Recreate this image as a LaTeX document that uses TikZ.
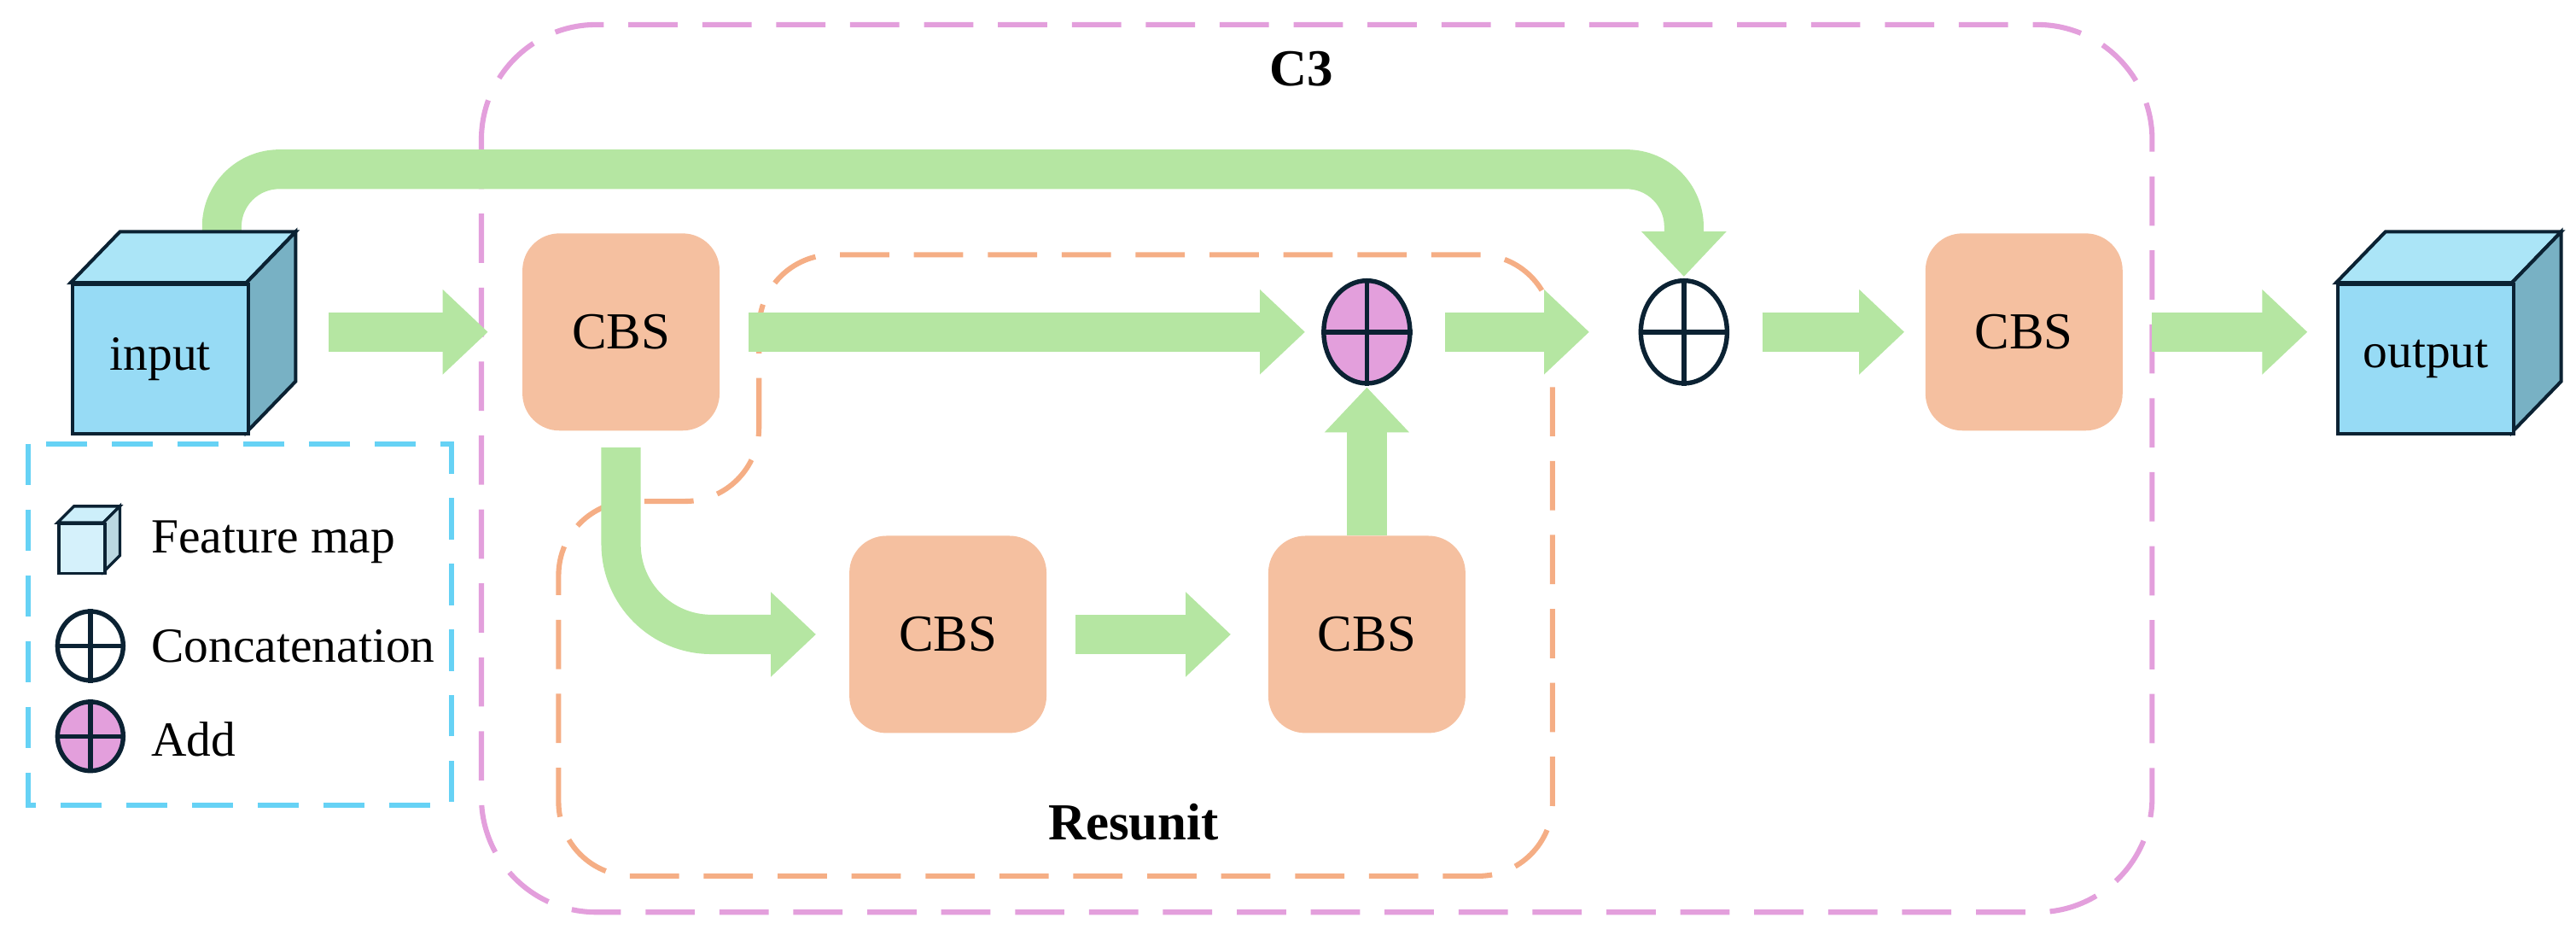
\documentclass[tikz,border=0pt]{standalone}
\usepackage{fontspec}
\setmainfont{Liberation Serif}
\usetikzlibrary{arrows.meta,shapes.geometric}
\definecolor{gr}{HTML}{B5E6A2}
\definecolor{cbs}{HTML}{F5C0A0}
\definecolor{pk}{HTML}{E39FDC}
\definecolor{og}{HTML}{F5AE85}
\definecolor{cy}{HTML}{66D2F5}
\definecolor{dk}{HTML}{0B2233}
\definecolor{cf}{HTML}{97DBF5}
\definecolor{cs}{HTML}{78B1C4}
\definecolor{ct}{HTML}{ABE5F7}
\tikzset{
 cbs/.style={rectangle,rounded corners=0.45cm,fill=cbs,minimum width=2.4cm,minimum height=2.4cm,font=\fontsize{18}{21}\selectfont},
 garrow/.style={draw=gr,line width=0.48cm,-{Triangle[width=1.0cm,length=0.55cm]}},
 op/.style={ellipse,draw=dk,line width=1.6pt,minimum width=1.05cm,minimum height=1.25cm,inner sep=0pt},
 cross/.style={draw=dk,line width=1.6pt},
 lbl/.style={font=\fontsize{17}{20}\selectfont,anchor=west},
}
\begin{document}
\begin{tikzpicture}[x=0.02cm,y=-0.02cm]
\useasboundingbox (0,0) rectangle (1568,572.5);
% C3 box
\draw[pk,line width=1.8pt,dash pattern=on 0.6cm off 0.3cm,rounded corners=1.4cm] (293,15) rectangle (1310,555);
\node[font=\bfseries\fontsize{18}{21}\selectfont] (c3) at (792,42) {C3};
% Resunit box
\draw[og,line width=1.8pt,dash pattern=on 0.6cm off 0.3cm,rounded corners=0.9cm] (462,305) -- (462,155) -- (945,155) -- (945,533) -- (340,533) -- (340,305) -- cycle;
\node[font=\bfseries\fontsize{18}{21}\selectfont] (res) at (690,500) {Resunit};
% nodes
\node[cbs] (cbs1) at (378,202) {CBS};
\node[cbs] (cbs2) at (577,386) {CBS};
\node[cbs] (cbs3) at (832,386) {CBS};
\node[cbs] (cbs4) at (1232,202) {CBS};
\node[op,fill=pk] (add) at (832,202) {};
\draw[cross] (add.north)--(add.south) (add.west)--(add.east);
\node[op,fill=white] (cat) at (1025,202) {};
\draw[cross] (cat.north)--(cat.south) (cat.west)--(cat.east);
% top skip path (behind input cube)
\coordinate (tp) at (135,150);
\draw[garrow,rounded corners=0.7cm,shorten >=0.02cm] (tp) -- (tp |- 0,103) -- (cat.north |- 0,103) -- (cat.north);
% cubes
\foreach \n/\x/\t in {in/43/input,out/1422/output}{
 \fill[ct,draw=dk,line width=1.2pt] (\x,172) -- (\x+30,141) -- (\x+137,141) -- (\x+107,172) -- cycle;
 \fill[cs,draw=dk,line width=1.2pt] (\x+107,172) -- (\x+137,141) -- (\x+137,232) -- (\x+107,263) -- cycle;
 \node[rectangle,fill=cf,draw=dk,line width=1.2pt,minimum width=2.14cm,minimum height=1.82cm,anchor=north west,font=\fontsize{17}{20}\selectfont] (\n) at (\x,172) {\t};
}
% arrows
\coordinate (a1) at (200,202); \coordinate (a1e) at (297,202);
\draw[garrow] (a1) -- (a1e);
\draw[garrow,shorten <=0.35cm,shorten >=0.2cm] (cbs1.east) -- (add.west);
\draw[garrow,shorten <=0.4cm,shorten >=0.6cm] (add.east) -- (cat.west);
\draw[garrow,shorten <=0.4cm,shorten >=0.25cm] (cat.east) -- (cbs4.west);
\draw[garrow,shorten <=0.35cm,shorten >=0.35cm] (cbs4.east) -- (out.west |- cbs4.east);
\draw[garrow,rounded corners=1.1cm,shorten <=0.2cm,shorten >=0.4cm] (cbs1.south) -- (cbs1.south |- cbs2.west) -- (cbs2.west);
\draw[garrow,shorten <=0.35cm,shorten >=0.45cm] (cbs2.east) -- (cbs3.west);
\draw[garrow,shorten >=0.02cm] (cbs3.north) -- (add.south);
% legend
\draw[cy,line width=1.8pt,dash pattern=on 0.5cm off 0.3cm] (17,270) rectangle (275,490);
\fill[ct!60!white,draw=dk,line width=1pt] (35,318) -- (45,308) -- (73,308) -- (63,318) -- cycle;
\fill[cs!50!white,draw=dk,line width=1pt] (63,318) -- (73,308) -- (73,338) -- (63,348) -- cycle;
\node[rectangle,fill=cf!40!white,draw=dk,line width=1pt,minimum width=0.56cm,minimum height=0.6cm,anchor=north west,inner sep=0pt] (lfm) at (35,318) {};
\node[lbl] (tfm) at (86,330) {Feature map};
\node[ellipse,draw=dk,line width=1.6pt,minimum width=0.8cm,minimum height=0.84cm,inner sep=0pt] (lcat) at (55,393) {};
\draw[cross] (lcat.north)--(lcat.south) (lcat.west)--(lcat.east);
\node[lbl] (tcat) at (86,393) {Concatenation};
\node[ellipse,draw=dk,fill=pk,line width=1.6pt,minimum width=0.8cm,minimum height=0.84cm,inner sep=0pt] (ladd) at (55,448) {};
\draw[cross] (ladd.north)--(ladd.south) (ladd.west)--(ladd.east);
\node[lbl] (tadd) at (86,450) {Add};
\end{tikzpicture}
\end{document}
